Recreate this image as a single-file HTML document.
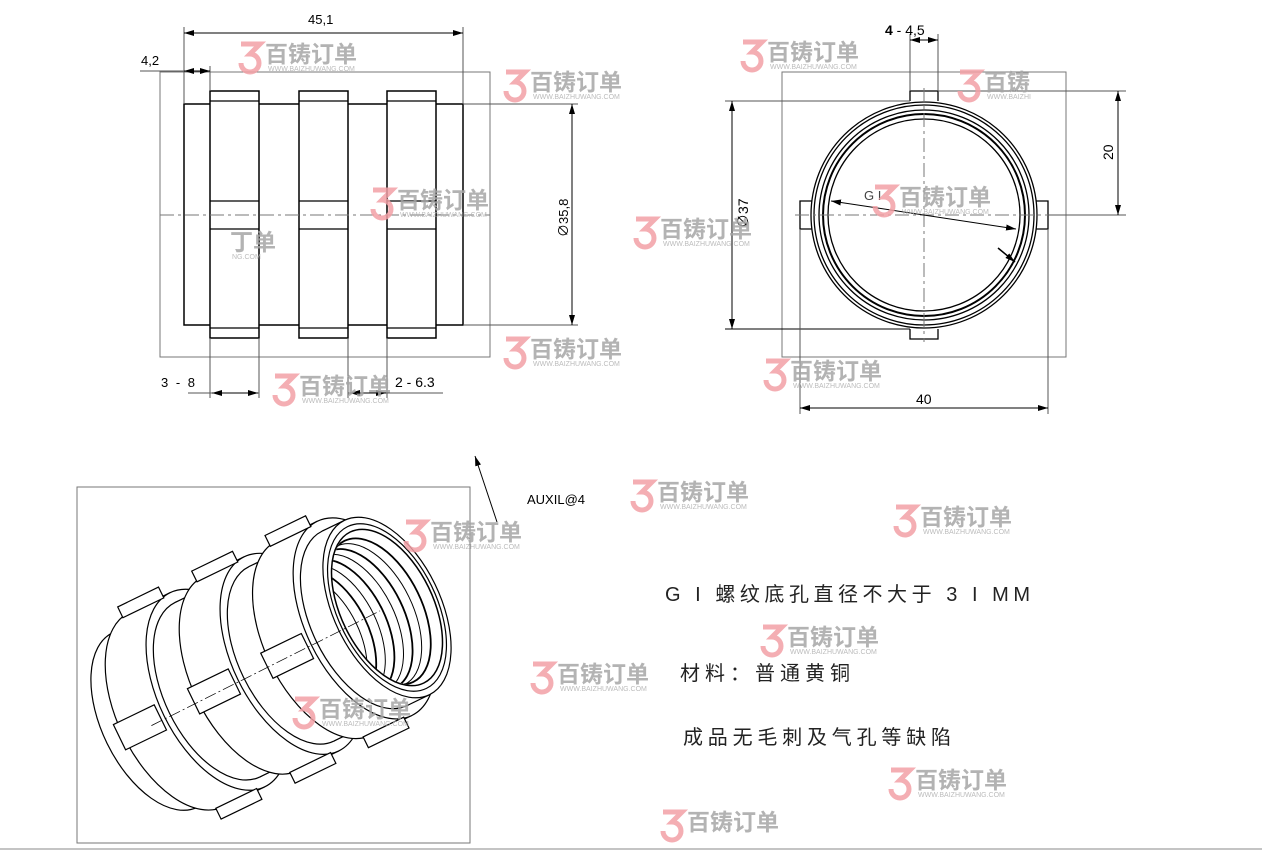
<!DOCTYPE html>
<html><head><meta charset="utf-8">
<style>
html,body{margin:0;padding:0;background:#fff;}
svg{display:block;}
.t{font-family:"Liberation Sans","Noto Sans CJK SC",sans-serif;}
.wm text.c{font-family:"Liberation Sans","Noto Sans CJK SC",sans-serif;font-weight:bold;font-size:23px;fill:#a6a6a6;}
.wm text.u{font-family:"Liberation Sans",sans-serif;font-size:7px;fill:#b0b0b0;}
.wm path{fill:none;stroke:#f2a0a6;stroke-width:5;}
</style></head>
<body>
<svg id="s" width="1262" height="852" viewBox="0 0 1262 852" xmlns="http://www.w3.org/2000/svg">
<defs>
<marker id="a" viewBox="0 0 10 6" refX="10" refY="3" markerWidth="10" markerHeight="6" orient="auto-start-reverse" markerUnits="userSpaceOnUse"><path d="M0 0 L10 3 L0 6 Z" fill="#000"/></marker>
</defs>
<g fill="none" stroke="#000" stroke-width="1">
<!-- LEFT VIEW -->
<rect x="160" y="72" width="330" height="285" stroke="#777"/>
<line x1="160" y1="215" x2="490" y2="215" stroke="#777" stroke-dasharray="14 4 3 4"/>
<rect x="184" y="104" width="279" height="221" stroke-width="1.5"/>
<g stroke-width="1.5" fill="#fff">
<rect x="210" y="91" width="49" height="247"/>
<rect x="299" y="91" width="49" height="247"/>
<rect x="387" y="91" width="49" height="247"/>
</g>
<g stroke-width="1.3">
<line x1="210" y1="101" x2="259" y2="101"/><line x1="210" y1="328" x2="259" y2="328"/>
<line x1="299" y1="101" x2="348" y2="101"/><line x1="299" y1="328" x2="348" y2="328"/>
<line x1="387" y1="101" x2="436" y2="101"/><line x1="387" y1="328" x2="436" y2="328"/>
<line x1="210" y1="201" x2="259" y2="201"/><line x1="210" y1="229" x2="259" y2="229"/>
<line x1="299" y1="201" x2="348" y2="201"/><line x1="299" y1="229" x2="348" y2="229"/>
<line x1="387" y1="201" x2="436" y2="201"/><line x1="387" y1="229" x2="436" y2="229"/>
</g>
<line x1="210" y1="215" x2="436" y2="215" stroke="#777" stroke-dasharray="14 4 3 4"/>
<!-- dims left -->
<line x1="184" y1="27" x2="184" y2="104" stroke="#555"/>
<line x1="463" y1="27" x2="463" y2="104" stroke="#555"/>
<line x1="184" y1="33" x2="463" y2="33" marker-start="url(#a)" marker-end="url(#a)"/>
<line x1="210" y1="66" x2="210" y2="91" stroke="#555"/>
<line x1="140" y1="71" x2="184" y2="71" stroke="#555"/>
<line x1="184" y1="71" x2="210" y2="71" marker-start="url(#a)" marker-end="url(#a)"/>
<line x1="463" y1="104" x2="578" y2="104" stroke="#555"/>
<line x1="463" y1="325" x2="578" y2="325" stroke="#555"/>
<line x1="572" y1="104" x2="572" y2="325" marker-start="url(#a)" marker-end="url(#a)"/>
<line x1="210" y1="338" x2="210" y2="398" stroke="#555"/>
<line x1="259" y1="338" x2="259" y2="398" stroke="#555"/>
<line x1="188" y1="393" x2="259" y2="393" stroke="#555"/>
<line x1="212" y1="393" x2="258" y2="393" marker-start="url(#a)" marker-end="url(#a)"/>
<line x1="348" y1="338" x2="348" y2="398" stroke="#555"/>
<line x1="387" y1="338" x2="387" y2="398" stroke="#555"/>
<line x1="348" y1="393" x2="443" y2="393" stroke="#555"/>
<line x1="350" y1="393" x2="386" y2="393" marker-start="url(#a)" marker-end="url(#a)"/>

<!-- RIGHT VIEW -->
<rect x="782" y="72" width="284" height="285" stroke="#777"/>
<path d="M910 101 V91 H938 V101 M910 329 V339 H938 V329 M812 201 H800 V229 H812 M1036 201 H1048 V229 H1036" stroke-width="1.3"/>
<g stroke-width="1.3">
<circle cx="924" cy="215" r="113"/>
<circle cx="924" cy="215" r="110"/>
<circle cx="924" cy="215" r="105"/>
<circle cx="924" cy="215" r="101" stroke-width="2"/>
<circle cx="924" cy="215" r="96"/>
</g>
<line x1="924" y1="88" x2="924" y2="342" stroke="#777" stroke-dasharray="14 4 3 4"/>
<line x1="795" y1="215" x2="1052" y2="215" stroke="#777" stroke-dasharray="14 4 3 4"/>
<line x1="831" y1="201" x2="1016" y2="229" marker-start="url(#a)" marker-end="url(#a)"/>
<line x1="998" y1="248" x2="1015" y2="262" stroke-width="1.5" marker-end="url(#a)"/>
<line x1="910" y1="34" x2="910" y2="91" stroke="#555"/>
<line x1="938" y1="34" x2="938" y2="91" stroke="#555"/>
<line x1="910" y1="40" x2="938" y2="40" marker-start="url(#a)" marker-end="url(#a)"/>
<line x1="725" y1="101" x2="910" y2="101" stroke="#555"/>
<line x1="725" y1="329" x2="910" y2="329"/>
<line x1="732" y1="101" x2="732" y2="329" marker-start="url(#a)" marker-end="url(#a)"/>
<line x1="938" y1="91" x2="1126" y2="91" stroke="#555"/>
<line x1="1048" y1="215" x2="1126" y2="215" stroke="#555"/>
<line x1="1118" y1="91" x2="1118" y2="215" marker-start="url(#a)" marker-end="url(#a)"/>
<line x1="800" y1="229" x2="800" y2="414" stroke="#555"/>
<line x1="1048" y1="229" x2="1048" y2="414" stroke="#555"/>
<line x1="800" y1="408" x2="1048" y2="408" marker-start="url(#a)" marker-end="url(#a)"/>

<!-- ISO -->
<rect x="77" y="487" width="393" height="356" stroke="#777"/>
<g id="iso"></g>
<line x1="497" y1="522" x2="475" y2="456" marker-end="url(#a)" stroke-width="1"/>
<line x1="0" y1="849" x2="1262" y2="849" stroke="#888"/>
</g>

<g class="t" font-size="13" fill="#000">
<text x="308" y="24">45,1</text>
<text x="141" y="65">4,2</text>
<text transform="translate(568,237) rotate(-90)">∅35,8</text>
<text x="161" y="387" letter-spacing="2">3 - 8</text>
<text x="395" y="387" font-size="14">2 - 6.3</text>
<text x="885" y="35" font-size="14"><tspan font-weight="bold">4</tspan> - 4,5</text>
<text transform="translate(748,228) rotate(-90)" font-size="14">∅37</text>
<text transform="translate(1113,160) rotate(-90)" font-size="14">20</text>
<text x="916" y="404" font-size="14">40</text>
<text x="864" y="200" font-size="13" fill="#444">G I</text>
<text x="527" y="504" font-size="13">AUXIL@4</text>
<text x="665" y="601" font-size="20" textLength="365" lengthAdjust="spacing" fill="#222">G I 螺纹底孔直径不大于 3 I MM</text>
<text x="680" y="680" font-size="20" textLength="170" lengthAdjust="spacing" fill="#222">材料：普通黄铜</text>
<text x="683" y="744" font-size="20" textLength="268" lengthAdjust="spacing" fill="#222">成品无毛刺及气孔等缺陷</text>
</g>

<!-- watermarks -->
<g class="wm" opacity="0.85">
<g transform="translate(238,40)"><path d="M3 4H22L12 14A9 9 0 1 1 3 23"/><text class="c" x="27" y="22">百铸订单</text><text class="u" x="30" y="31">WWW.BAIZHUWANG.COM</text></g>
<g transform="translate(503,68)"><path d="M3 4H22L12 14A9 9 0 1 1 3 23"/><text class="c" x="27" y="22">百铸订单</text><text class="u" x="30" y="31">WWW.BAIZHUWANG.COM</text></g>
<g transform="translate(370,186)"><path d="M3 4H22L12 14A9 9 0 1 1 3 23"/><text class="c" x="27" y="22">百铸订单</text><text class="u" x="30" y="31">WWW.BAIZHUWANG.COM</text></g>
<g transform="translate(740,38)"><path d="M3 4H22L12 14A9 9 0 1 1 3 23"/><text class="c" x="27" y="22">百铸订单</text><text class="u" x="30" y="31">WWW.BAIZHUWANG.COM</text></g>
<g transform="translate(957,68)"><path d="M3 4H22L12 14A9 9 0 1 1 3 23"/><text class="c" x="27" y="22">百铸</text><text class="u" x="30" y="31">WWW.BAIZHI</text></g>
<g transform="translate(633,215)"><path d="M3 4H22L12 14A9 9 0 1 1 3 23"/><text class="c" x="27" y="22">百铸订单</text><text class="u" x="30" y="31">WWW.BAIZHUWANG.COM</text></g>
<g transform="translate(872,183)"><path d="M3 4H22L12 14A9 9 0 1 1 3 23"/><text class="c" x="27" y="22">百铸订单</text><text class="u" x="30" y="31">WWW.BAIZHUWANG.COM</text></g>
<g transform="translate(503,335)"><path d="M3 4H22L12 14A9 9 0 1 1 3 23"/><text class="c" x="27" y="22">百铸订单</text><text class="u" x="30" y="31">WWW.BAIZHUWANG.COM</text></g>
<g transform="translate(763,357)"><path d="M3 4H22L12 14A9 9 0 1 1 3 23"/><text class="c" x="27" y="22">百铸订单</text><text class="u" x="30" y="31">WWW.BAIZHUWANG.COM</text></g>
<g transform="translate(272,372)"><path d="M3 4H22L12 14A9 9 0 1 1 3 23"/><text class="c" x="27" y="22">百铸订单</text><text class="u" x="30" y="31">WWW.BAIZHUWANG.COM</text></g>
<g transform="translate(630,478)"><path d="M3 4H22L12 14A9 9 0 1 1 3 23"/><text class="c" x="27" y="22">百铸订单</text><text class="u" x="30" y="31">WWW.BAIZHUWANG.COM</text></g>
<g transform="translate(893,503)"><path d="M3 4H22L12 14A9 9 0 1 1 3 23"/><text class="c" x="27" y="22">百铸订单</text><text class="u" x="30" y="31">WWW.BAIZHUWANG.COM</text></g>
<g transform="translate(403,518)"><path d="M3 4H22L12 14A9 9 0 1 1 3 23"/><text class="c" x="27" y="22">百铸订单</text><text class="u" x="30" y="31">WWW.BAIZHUWANG.COM</text></g>
<g transform="translate(760,623)"><path d="M3 4H22L12 14A9 9 0 1 1 3 23"/><text class="c" x="27" y="22">百铸订单</text><text class="u" x="30" y="31">WWW.BAIZHUWANG.COM</text></g>
<g transform="translate(530,660)"><path d="M3 4H22L12 14A9 9 0 1 1 3 23"/><text class="c" x="27" y="22">百铸订单</text><text class="u" x="30" y="31">WWW.BAIZHUWANG.COM</text></g>
<g transform="translate(292,695)"><path d="M3 4H22L12 14A9 9 0 1 1 3 23"/><text class="c" x="27" y="22">百铸订单</text><text class="u" x="30" y="31">WWW.BAIZHUWANG.COM</text></g>
<g transform="translate(888,766)"><path d="M3 4H22L12 14A9 9 0 1 1 3 23"/><text class="c" x="27" y="22">百铸订单</text><text class="u" x="30" y="31">WWW.BAIZHUWANG.COM</text></g>
<g transform="translate(660,808)"><path d="M3 4H22L12 14A9 9 0 1 1 3 23"/><text class="c" x="27" y="22">百铸订单</text></g>
<g transform="translate(230,232)"><text class="c" x="0" y="18">丁单</text><text class="u" x="2" y="27">NG.COM</text></g>
</g>
</svg>
<script>
(function(){
var NS="http://www.w3.org/2000/svg";
var g=document.getElementById("iso");
var d=[0.9,-0.436],u=[0.438,0.899],m=0.55;
function c(t){return [155+232*t,720-112.5*t];}
function el(tag,a){var e=document.createElementNS(NS,tag);for(var k in a)e.setAttribute(k,a[k]);g.appendChild(e);return e;}
function ell(p,R,fill,sw){return el("ellipse",{cx:p[0],cy:p[1],rx:R,ry:R*m,transform:"rotate(64 "+p[0]+" "+p[1]+")",fill:fill,stroke:"#000","stroke-width":sw||1.2});}
function P(p,a,v,b,w){return [p[0]+a*v[0]+(b||0)*(w||[0,0])[0],p[1]+a*v[1]+(b||0)*(w||[0,0])[1]];}
function poly(pts,fill,stroke){return el("polygon",{points:pts.map(function(q){return q[0].toFixed(1)+","+q[1].toFixed(1)}).join(" "),fill:fill,stroke:stroke||"none","stroke-width":1.2});}
function line(a,b,sw){el("line",{x1:a[0],y1:a[1],x2:b[0],y2:b[1],stroke:"#000","stroke-width":sw||1.2});}
var segs=[[0,0.093,97],[0.093,0.269,108,1],[0.269,0.412,97],[0.412,0.588,108,1],[0.588,0.728,97],[0.728,0.903,108,1],[0.903,1,97]];
segs.forEach(function(s){
 var a=c(s[0]),b=c(s[1]),R=s[2];
 ell(a,R,"#fff");
 poly([P(a,R,u),P(b,R,u),P(b,-R,u),P(a,-R,u)],"#fff");
 line(P(a,R,u),P(b,R,u));line(P(a,-R,u),P(b,-R,u));
 ell(b,R,"#fff");
 if(s[3]){
  var off=R*m;
  // top lug
  poly([P(a,-R+2,u,-8,d),P(b,-R+2,u,-8,d),P(b,-R-10,u,-8,d),P(a,-R-10,u,-8,d)],"#fff","#000");
  // bottom lug
  poly([P(a,R-2,u,-8,d),P(b,R-2,u,-8,d),P(b,R+10,u,-8,d),P(a,R+10,u,-8,d)],"#fff","#000");
  // middle lug (front facing)
  var a2=P(a,-off-4,d),b2=P(b,-off-4,d);
  poly([P(a2,-14,u),P(b2,-14,u),P(b2,14,u),P(a2,14,u)],"#fff","#000");
 }
});
var f=c(1);
ell(f,90,"#fff",1.2);
ell(f,84,"#fff",1.5);
var cp=document.createElementNS(NS,"clipPath");cp.setAttribute("id","bore");
var ce=document.createElementNS(NS,"ellipse");
ce.setAttribute("cx",f[0]);ce.setAttribute("cy",f[1]);ce.setAttribute("rx",83);ce.setAttribute("ry",83*m);ce.setAttribute("transform","rotate(64 "+f[0]+" "+f[1]+")");
cp.appendChild(ce);document.querySelector("defs").appendChild(cp);
var tg=document.createElementNS(NS,"g");tg.setAttribute("clip-path","url(#bore)");g.appendChild(tg);
for(var k=1;k<=8;k++){
 var q=P(f,-k*9,d);
 var e=document.createElementNS(NS,"ellipse");
 e.setAttribute("cx",q[0]);e.setAttribute("cy",q[1]);e.setAttribute("rx",80-k*1.5);e.setAttribute("ry",(80-k*1.5)*m);
 e.setAttribute("transform","rotate(64 "+q[0]+" "+q[1]+")");e.setAttribute("fill","none");e.setAttribute("stroke","#000");e.setAttribute("stroke-width",k%2?1.8:1);
 tg.appendChild(e);
}
var l0=c(-0.05),l1=c(0.97);
el("line",{x1:l0[0]+8,y1:l0[1],x2:l1[0],y2:l1[1],stroke:"#000","stroke-width":0.7,"stroke-dasharray":"12 3 2 3"});
})();
</script>
</body></html>
